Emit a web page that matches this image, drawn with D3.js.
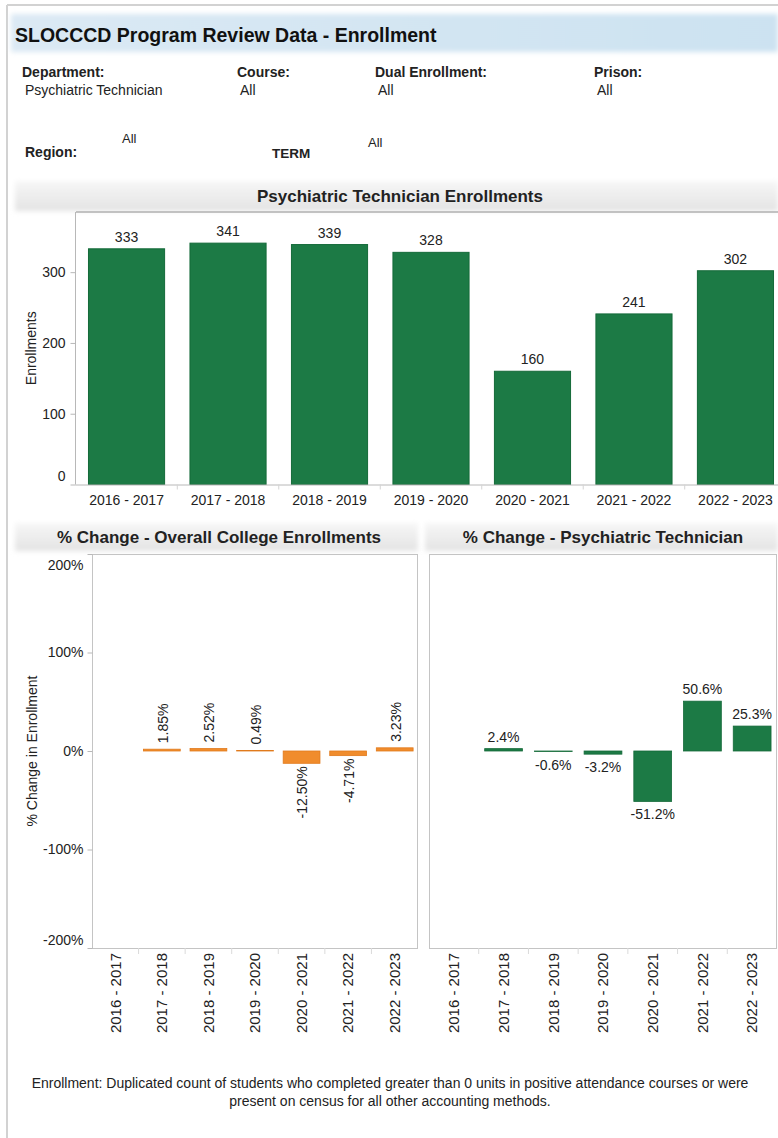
<!DOCTYPE html>
<html>
<head>
<meta charset="utf-8">
<script src="https://cdn.jsdelivr.net/npm/d3@7"></script>
<style>
  html, body { margin: 0; padding: 0; background: #fff; }
  svg { display: block; font-family: Arial, "Liberation Sans", sans-serif; }
</style>
</head>
<body>
<div id="chart"></div>
<script>
// Academic years shown on every panel
const years = ["2016 - 2017", "2017 - 2018", "2018 - 2019", "2019 - 2020", "2020 - 2021", "2021 - 2022", "2022 - 2023"];
// Psychiatric Technician enrollments per year
const enrollments = [333, 341, 339, 328, 160, 241, 302];
// Year-over-year % change, whole college (first year has no prior)
const collegeChange = [null, 1.85, 2.52, 0.49, -12.50, -4.71, 3.23];
// Year-over-year % change, Psychiatric Technician
const deptChange = [null, 2.4, -0.6, -3.2, -51.2, 50.6, 25.3];
// Axis ticks
const enrollTicks = [0, 100, 200, 300];
const pctTicks = [-200, -100, 0, 100, 200];
// Filter header fields
const filters = [
  { label: "Department:", value: "Psychiatric Technician", x: 22 },
  { label: "Course:", value: "All", x: 237 },
  { label: "Dual Enrollment:", value: "All", x: 375 },
  { label: "Prison:", value: "All", x: 594 }
];
const footnote = [
  "Enrollment: Duplicated count of students who completed greater than 0 units in positive attendance courses or were",
  "present on census for all other accounting methods."
];

const W = 778, H = 1138;
const GREEN = "#1c7a45", GREEN_EDGE = "#146a39";
const ORANGE = "#f08c2c", ORANGE_EDGE = "#e07a1c";
const AXIS = "#b8b8b8", TEXT = "#222";

// percent label with a plain hyphen for negatives
const pctLabel = digits => v => (v < 0 ? "-" : "") + Math.abs(v).toFixed(digits) + "%";

const svg = d3.select("#chart").append("svg").attr("width", W).attr("height", H);
const defs = svg.append("defs");

const soft = defs.append("filter").attr("id", "soft").attr("x", "-5%").attr("y", "-40%").attr("width", "110%").attr("height", "180%");
soft.append("feGaussianBlur").attr("stdDeviation", 2.5);

const blueGrad = defs.append("linearGradient").attr("id", "blueGrad");
blueGrad.append("stop").attr("offset", "0%").attr("stop-color", "#dbe9f4");
blueGrad.append("stop").attr("offset", "100%").attr("stop-color", "#cce2f1");

const grayGrad = defs.append("linearGradient").attr("id", "grayGrad").attr("x1", 0).attr("x2", 0).attr("y1", 0).attr("y2", 1);
grayGrad.append("stop").attr("offset", "0%").attr("stop-color", "#f7f7f7");
grayGrad.append("stop").attr("offset", "100%").attr("stop-color", "#e3e3e3");

// Dashboard frame
svg.append("line").attr("x1", 7).attr("x2", W).attr("y1", 5).attr("y2", 5).attr("stroke", "#d2d2d2").attr("stroke-width", 2);
svg.append("line").attr("x1", 7).attr("x2", 7).attr("y1", 5).attr("y2", H).attr("stroke", "#d2d2d2").attr("stroke-width", 2);

// Title band
svg.append("rect").attr("x", 11).attr("y", 14).attr("width", W - 11).attr("height", 38)
  .attr("fill", "url(#blueGrad)").attr("filter", "url(#soft)");
svg.append("text").attr("x", 15).attr("y", 42).attr("font-size", 19.5).attr("font-weight", "bold")
  .attr("fill", "#111").text("SLOCCCD Program Review Data - Enrollment");

// Filter fields
const fg = svg.append("g").attr("fill", TEXT);
filters.forEach(f => {
  fg.append("text").attr("x", f.x).attr("y", 77).attr("font-size", 14).attr("font-weight", "bold").text(f.label);
  fg.append("text").attr("x", f.x + 3).attr("y", 95).attr("font-size", 14).text(f.value);
});
fg.append("text").attr("x", 25).attr("y", 157).attr("font-size", 14).attr("font-weight", "bold").text("Region:");
fg.append("text").attr("x", 122).attr("y", 143).attr("font-size", 13).text("All");
fg.append("text").attr("x", 272).attr("y", 158).attr("font-size", 13.5).attr("font-weight", "bold").text("TERM");
fg.append("text").attr("x", 368).attr("y", 147).attr("font-size", 13).text("All");

// ---------- Enrollment bar chart ----------
const main = { left: 76, right: 786, y0: 484.5, y1: 212 };
svg.append("rect").attr("x", 15).attr("y", 181).attr("width", W - 15).attr("height", 30)
  .attr("fill", "url(#grayGrad)").attr("filter", "url(#soft)");
svg.append("text").attr("x", 400).attr("y", 202).attr("text-anchor", "middle")
  .attr("font-size", 17).attr("font-weight", "bold").attr("fill", TEXT)
  .text("Psychiatric Technician Enrollments");

const xMain = d3.scaleBand().domain(years).range([main.left, main.right]).paddingInner(0.25).paddingOuter(0.123);
const yMain = d3.scaleLinear().domain([0, 385]).range([main.y0, main.y1]);

svg.append("line").attr("x1", main.left).attr("x2", W).attr("y1", main.y1).attr("y2", main.y1).attr("stroke", "#b0b0b0").attr("stroke-width", 1.5);
svg.append("line").attr("x1", main.left - 0.5).attr("x2", main.left - 0.5).attr("y1", main.y1).attr("y2", main.y0).attr("stroke", AXIS);

svg.append("g").selectAll("rect").data(years).join("rect")
  .attr("x", d => xMain(d)).attr("width", xMain.bandwidth())
  .attr("y", (d, i) => yMain(enrollments[i])).attr("height", (d, i) => yMain(0) - yMain(enrollments[i]))
  .attr("fill", GREEN).attr("stroke", GREEN_EDGE).attr("stroke-width", 1);

svg.append("g").selectAll("text").data(years).join("text")
  .attr("x", d => xMain(d) + xMain.bandwidth() / 2).attr("y", (d, i) => yMain(enrollments[i]) - 7)
  .attr("text-anchor", "middle").attr("font-size", 14).attr("fill", TEXT)
  .text((d, i) => enrollments[i]);

const yAxisMain = svg.append("g").attr("transform", `translate(${main.left - 0.5},0)`)
  .call(d3.axisLeft(yMain).tickValues(enrollTicks).tickSize(5).tickPadding(5));
yAxisMain.select(".domain").remove();
yAxisMain.selectAll(".tick line").attr("stroke", AXIS);
yAxisMain.selectAll(".tick text").attr("font-size", 14).attr("fill", TEXT).attr("font-family", null)
  .attr("dy", d => d === 0 ? "-0.3em" : "0.32em");

const xAxisMain = svg.append("g").attr("transform", `translate(0,${main.y0})`)
  .call(d3.axisBottom(xMain).tickSize(0).tickPadding(11));
xAxisMain.select(".domain").attr("stroke", AXIS).attr("d", `M${main.left - 0.5},0.5H${W}`);
xAxisMain.selectAll(".tick text").attr("font-size", 14).attr("fill", TEXT).attr("font-family", null);
// boundary ticks between categories
svg.append("g").selectAll("line").data(years.slice(1)).join("line")
  .attr("x1", d => xMain(d) - xMain.step() * xMain.paddingInner() / 2)
  .attr("x2", d => xMain(d) - xMain.step() * xMain.paddingInner() / 2)
  .attr("y1", main.y0).attr("y2", main.y0 + 5).attr("stroke", "#d4d4d4");

svg.append("text").attr("transform", `translate(36,${(main.y0 + main.y1) / 2}) rotate(-90)`)
  .attr("text-anchor", "middle").attr("font-size", 14).attr("fill", TEXT).text("Enrollments");

// ---------- % change panels ----------
const pTop = 554, pBot = 948;
const yPct = d3.scaleLinear().domain([-200, 200]).range([pBot, pTop]);

function panel(opts) {
  const g = svg.append("g");
  // header band + title
  g.append("rect").attr("x", opts.bandX).attr("y", 523).attr("width", opts.bandW).attr("height", 28)
    .attr("fill", "url(#grayGrad)").attr("filter", "url(#soft)");
  g.append("text").attr("x", opts.titleX).attr("y", 543).attr("text-anchor", "middle")
    .attr("font-size", 17).attr("font-weight", "bold").attr("fill", TEXT).text(opts.title);

  const x = d3.scaleBand().domain(years).range([opts.left, opts.right])
    .paddingInner(opts.pad).paddingOuter(opts.pad / 2);

  // frame
  g.append("rect").attr("x", opts.left + 0.5).attr("y", pTop + 0.5)
    .attr("width", opts.right - opts.left - 1).attr("height", pBot - pTop)
    .attr("fill", "none").attr("stroke", "#c4c4c4");

  const vals = opts.values;
  const pts = years.map((y, i) => ({ year: y, v: vals[i] })).filter(d => d.v !== null);

  g.append("g").selectAll("rect").data(pts).join("rect")
    .attr("x", d => x(d.year)).attr("width", x.bandwidth())
    .attr("y", d => yPct(Math.max(0, d.v)))
    .attr("height", d => Math.abs(yPct(0) - yPct(d.v)))
    .attr("fill", opts.color).attr("stroke", opts.edge).attr("stroke-width", 0.8);

  if (opts.rotated) {
    g.append("g").selectAll("text").data(pts).join("text")
      .attr("transform", d => {
        const cx = x(d.year) + x.bandwidth() / 2;
        const cy = d.v >= 0 ? yPct(d.v) - 6 : yPct(d.v) + 3;
        return `translate(${cx + 1},${cy}) rotate(-90)`;
      })
      .attr("text-anchor", d => d.v >= 0 ? "start" : "end")
      .attr("dy", "0.35em").attr("font-size", 14).attr("fill", TEXT)
      .text(d => pctLabel(2)(d.v));
  } else {
    g.append("g").selectAll("text").data(pts).join("text")
      .attr("x", d => x(d.year) + x.bandwidth() / 2)
      .attr("y", d => d.v >= 0 ? yPct(d.v) - 7 : yPct(d.v) + 18)
      .attr("text-anchor", "middle").attr("font-size", 14).attr("fill", TEXT)
      .text(d => pctLabel(1)(d.v));
  }

  // category labels, rotated
  const xa = g.append("g").attr("transform", `translate(0,${pBot})`)
    .call(d3.axisBottom(x).tickSize(0).tickPadding(5));
  xa.select(".domain").remove();
  xa.selectAll(".tick text").attr("font-size", 15).attr("fill", TEXT).attr("font-family", null)
    .attr("transform", "rotate(-90)").attr("text-anchor", "end")
    .attr("x", -5).attr("y", 0).attr("dy", "0.35em");

  if (opts.yAxis) {
    const ya = g.append("g").attr("transform", `translate(${opts.left + 0.5},0)`)
      .call(d3.axisLeft(yPct).tickValues(pctTicks).tickSize(5).tickPadding(4).tickFormat(pctLabel(0)));
    ya.select(".domain").remove();
    ya.selectAll(".tick line").attr("stroke", AXIS);
    ya.selectAll(".tick text").attr("font-size", 14).attr("fill", TEXT).attr("font-family", null)
      .attr("dy", d => d === 200 ? "1.1em" : d === -200 ? "-0.25em" : "0.32em");
    g.append("text").attr("transform", `translate(37,${yPct(0)}) rotate(-90)`)
      .attr("text-anchor", "middle").attr("font-size", 14).attr("fill", TEXT).text("% Change in Enrollment");
  }
  // small boundary ticks under the frame
  g.append("g").selectAll("line").data(years.slice(1)).join("line")
    .attr("x1", d => x(d) - x.step() * x.paddingInner() / 2)
    .attr("x2", d => x(d) - x.step() * x.paddingInner() / 2)
    .attr("y1", pBot).attr("y2", pBot + 6).attr("stroke", "#dadada");
}

panel({
  title: "% Change - Overall College Enrollments", titleX: 219, bandX: 15, bandW: 403,
  left: 92, right: 418, pad: 0.21, values: collegeChange,
  color: ORANGE, edge: ORANGE_EDGE, rotated: true, yAxis: true
});
panel({
  title: "% Change - Psychiatric Technician", titleX: 603, bandX: 425, bandW: W - 425,
  left: 429, right: 777, pad: 0.24, values: deptChange,
  color: GREEN, edge: GREEN_EDGE, rotated: false, yAxis: false
});

// Footnote
svg.append("g").selectAll("text").data(footnote).join("text")
  .attr("x", 390).attr("y", (d, i) => 1088 + i * 18)
  .attr("text-anchor", "middle").attr("font-size", 14).attr("fill", TEXT).text(d => d);
</script>
</body>
</html>
